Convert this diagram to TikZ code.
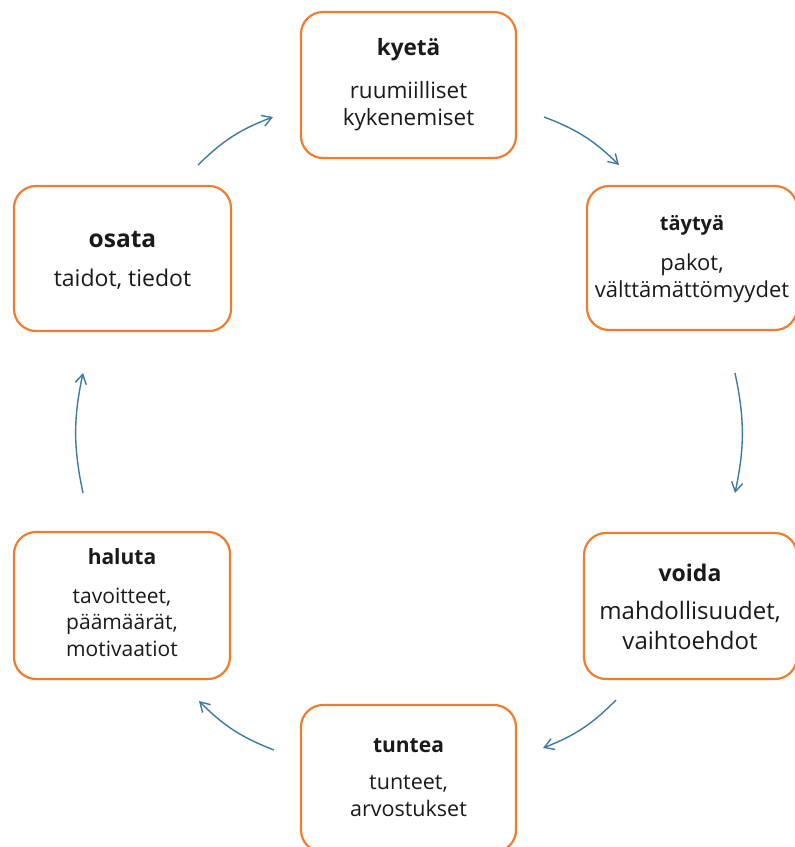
\documentclass[tikz,border=0pt]{standalone}
\usepackage{fontspec}
\setmainfont{Open Sans}
\usetikzlibrary{arrows.meta}
\definecolor{boxorange}{HTML}{ED7D31}
\definecolor{arrowblue}{HTML}{3F7A9C}
\definecolor{txt}{HTML}{1A1A1A}
\tikzset{
  card/.style={draw=boxorange, line width=2.2pt, rounded corners=22pt, fill=white, inner sep=0pt},
  ttl/.style={text=txt, anchor=center, inner sep=0pt},
  body/.style={text=txt, align=center, anchor=center, inner sep=0pt},
  flow/.style={draw=arrowblue, line width=1.4pt, -{Straight Barb[angle=62:11pt, line width=1.4pt]}},
}
\begin{document}
\begin{tikzpicture}[x=1pt,y=-1pt]
\useasboundingbox (0,0) rectangle (795,847);
% boxes
\draw[card] (301,12) rectangle (516,158);
\node (kyeta) at (408.5,85) {};
\draw[card] (587,186) rectangle (797,330);
\node (taytya) at (692,258) {};
\draw[card] (584,533) rectangle (797,679);
\node (voida) at (690,606) {};
\draw[card] (301,705) rectangle (516,852);
\node (tuntea) at (408.5,778) {};
\draw[card] (14,532) rectangle (230,679);
\node (haluta) at (122,606) {};
\draw[card] (14,186) rectangle (231,331);
\node (osata) at (122.5,258) {};
% texts
\node[ttl, font=\bfseries\fontsize{22.5}{26}\selectfont] (t1) at (408.5,50) {kyetä};
\node[body, font=\fontsize{22.5}{27}\selectfont] (b1) at (408.5,106.5) {ruumiilliset\\kykenemiset};
\node[ttl, font=\bfseries\fontsize{20}{24}\selectfont] (t2) at (692,225) {täytyä};
\node[body, font=\fontsize{22}{27}\selectfont] (b2) at (692,278.5) {pakot,\\välttämättömyydet};
\node[ttl, font=\bfseries\fontsize{23}{26}\selectfont] (t3) at (690,573) {voida};
\node[body, font=\fontsize{24}{30}\selectfont] (b3) at (690,625) {mahdollisuudet,\\vaihtoehdot};
\node[ttl, font=\bfseries\fontsize{21}{24}\selectfont] (t4) at (408.5,746) {tuntea};
\node[body, font=\fontsize{21.5}{27}\selectfont] (b4) at (408.5,796.5) {tunteet,\\arvostukset};
\node[ttl, font=\bfseries\fontsize{21}{24}\selectfont] (t5) at (122,557) {haluta};
\node[body, font=\fontsize{21}{26.5}\selectfont] (b5) at (122,622) {tavoitteet,\\päämäärät,\\motivaatiot};
\node[ttl, font=\bfseries\fontsize{24.5}{28}\selectfont] (t6) at (122.5,240) {osata};
\node[body, font=\fontsize{23}{26}\selectfont] (b6) at (122.5,279) {taidot, tiedot};
% arrow end points
\coordinate (a1s) at (198,165); \coordinate (a1e) at (273,117);
\coordinate (a2s) at (544,117); \coordinate (a2e) at (619,165);
\coordinate (a3s) at (735,373); \coordinate (a3e) at (735,493);
\coordinate (a4s) at (616,700); \coordinate (a4e) at (543,748);
\coordinate (a5s) at (274,750); \coordinate (a5e) at (199,701);
\coordinate (a6s) at (83,493);  \coordinate (a6e) at (83,373);
\draw[flow] (a1s) to[bend left=12] (a1e);
\draw[flow] (a2s) to[bend left=12] (a2e);
\draw[flow] (a3s) to[bend left=12] (a3e);
\draw[flow] (a4s) to[bend left=12] (a4e);
\draw[flow] (a5s) to[bend left=12] (a5e);
\draw[flow] (a6s) to[bend left=12] (a6e);
\end{tikzpicture}
\end{document}
